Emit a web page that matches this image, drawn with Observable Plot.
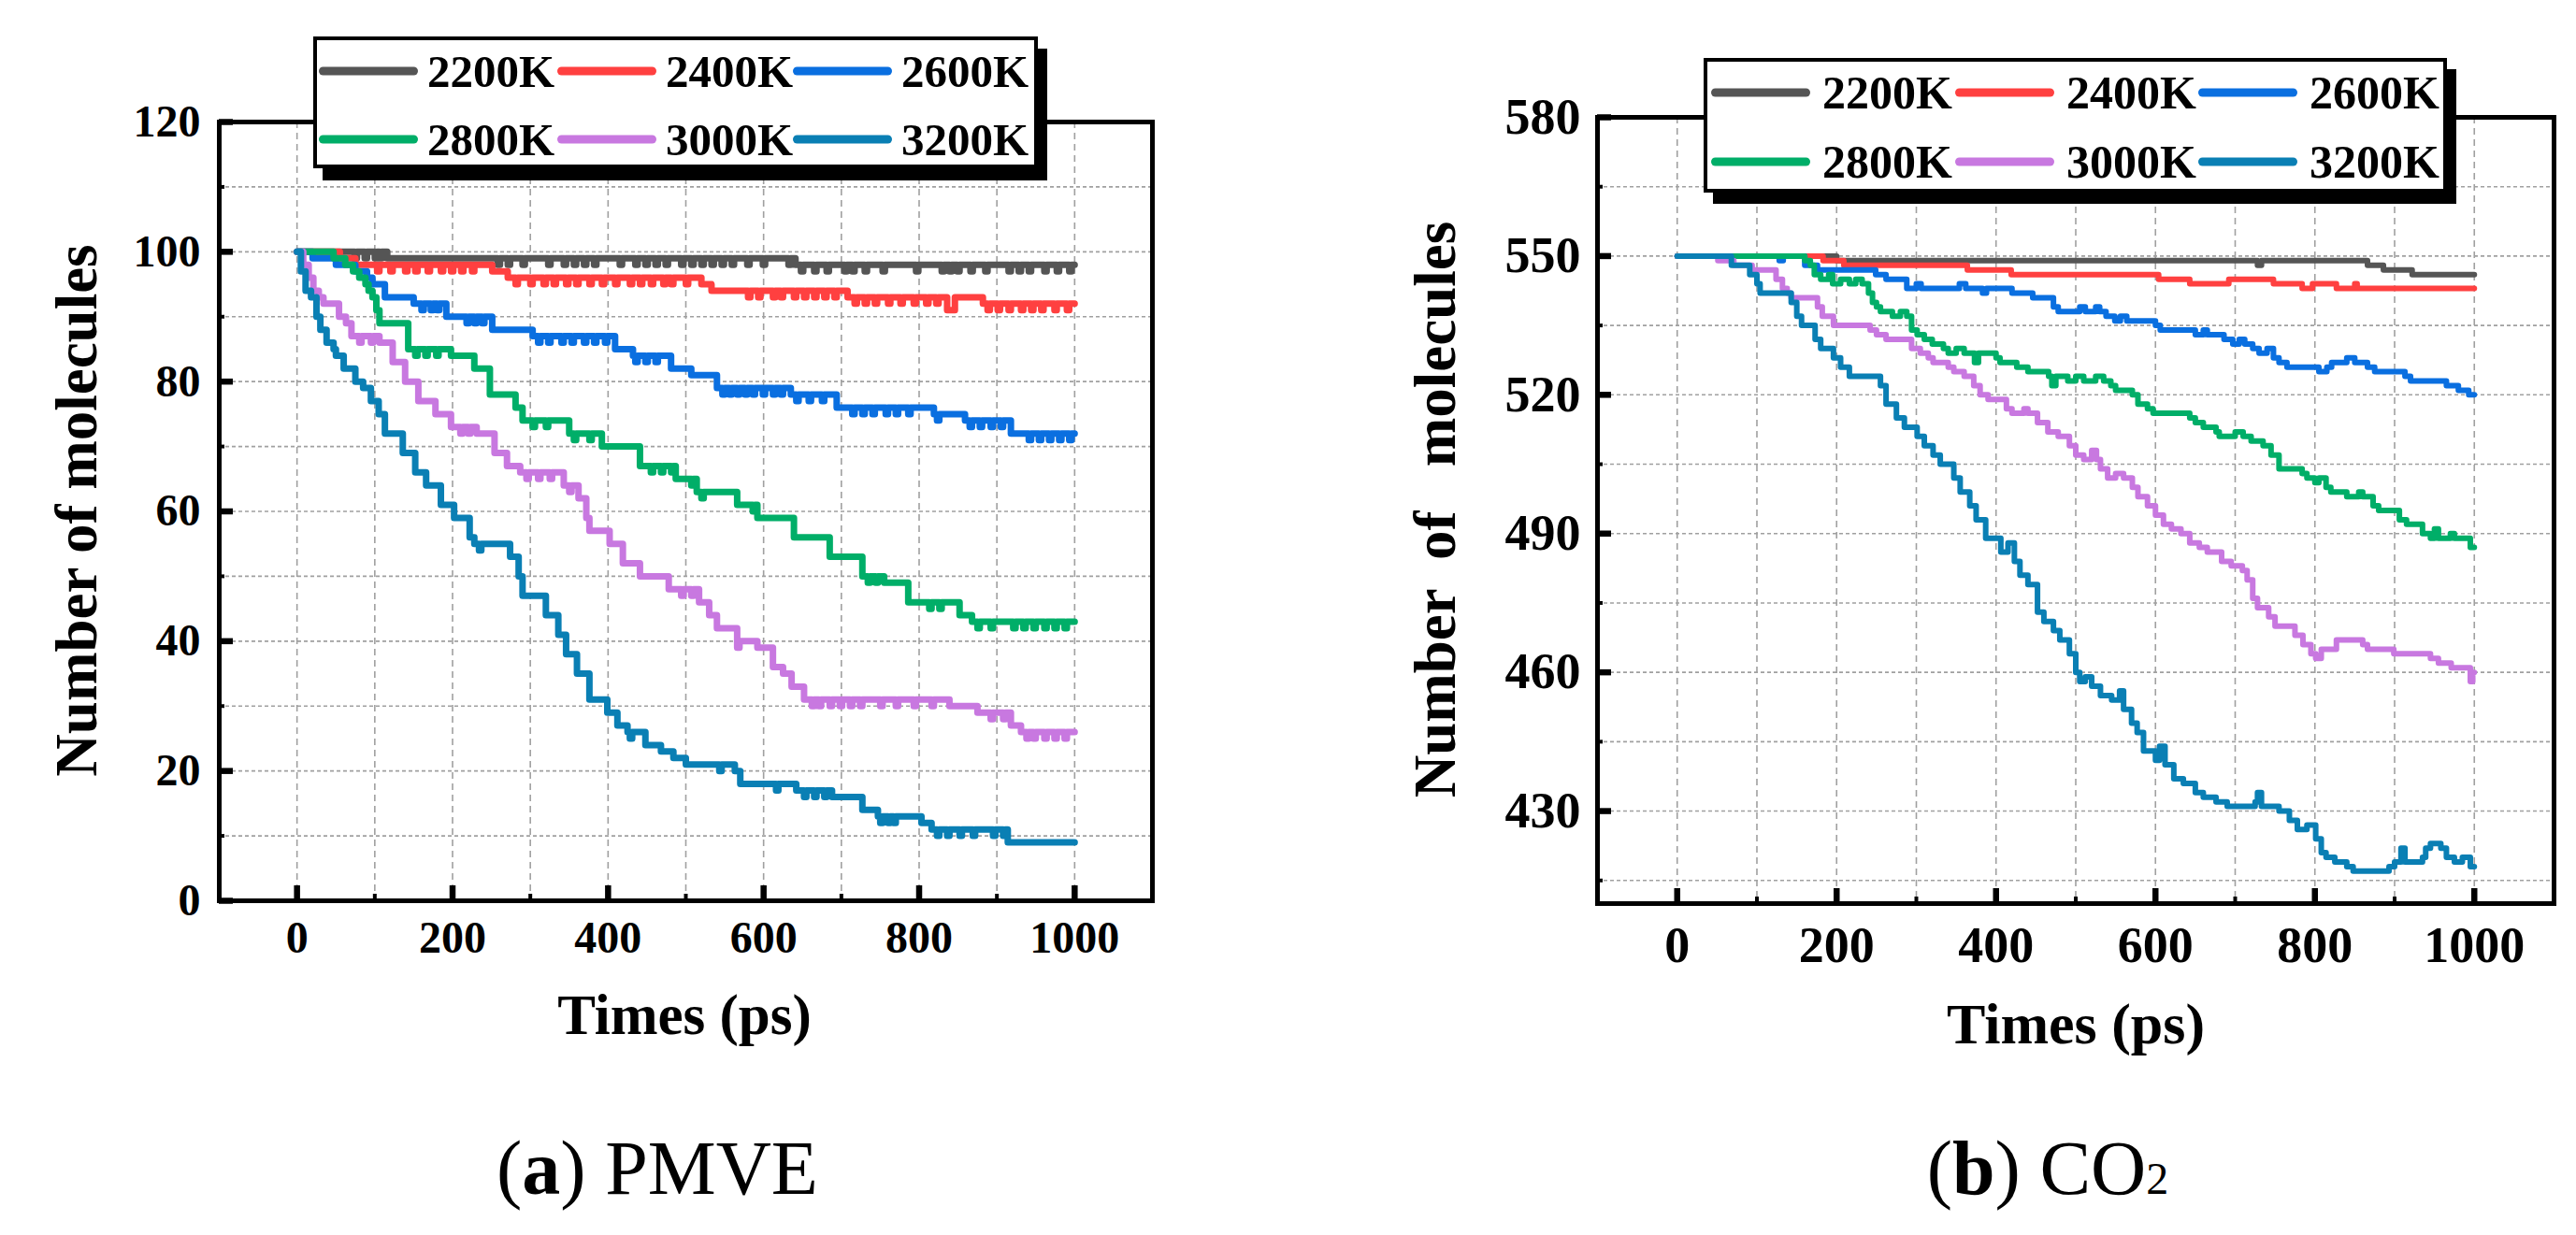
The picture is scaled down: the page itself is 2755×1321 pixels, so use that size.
<!DOCTYPE html>
<html>
<head>
<meta charset="utf-8">
<script src="https://cdn.jsdelivr.net/npm/d3@7"></script>
<script src="https://cdn.jsdelivr.net/npm/@observablehq/plot@0.6"></script>
<style>
  html, body { margin: 0; padding: 0; background: #fff; }
  #page { position: relative; width: 2755px; height: 1321px; overflow: hidden; background: #fff;
          font-family: "Liberation Serif", "Times New Roman", serif; }
  #plotA, #plotB, #overlay { position: absolute; top: 0; }
  #plotA { left: 0; }
  #plotB { left: 1380px; }
  #overlay { left: 0; pointer-events: none; }
</style>
</head>
<body>
<div id="page">
  <div id="plotA"></div>
  <div id="plotB"></div>
  <svg id="overlay" width="2755" height="1321"></svg>
</div>
<script>
// ---------- categories, colours, ticks ----------
const temps = ["2200K", "2400K", "2600K", "2800K", "3000K", "3200K"];
const colors = ["#555555", "#ff4040", "#0a6fe0", "#00ae68", "#c878e0", "#0a7fb4"];

const xMajor = [0, 200, 400, 600, 800, 1000];
const xMinor = [100, 300, 500, 700, 900];
const xGrid = [0, 100, 200, 300, 400, 500, 600, 700, 800, 900, 1000];

const yMajorA = [0, 20, 40, 60, 80, 100, 120];
const yMinorA = [10, 30, 50, 70, 90, 110];
const yGridA = [10, 20, 30, 40, 50, 60, 70, 80, 90, 100, 110];

const yMajorB = [430, 460, 490, 520, 550, 580];
const yMinorB = [415, 445, 475, 505, 535, 565];
const yGridB = [415, 430, 445, 460, 475, 490, 505, 520, 535, 550, 565];

// ---------- (a) PMVE : step levels [time ps, molecules] ----------
const pmve2200 = [[0,100],[116,99],[641,98]];
const pmve2400 = [[0,100],[55,99],[75,98],[251,97],[271,96],[520,95],[533,94],[708,93],[836,91],[846,93],[882,92]];
const pmve2600 = [[0,100],[20,99],[50,98],[75,97],[90,96],[97,95],[113,93],[150,92],[192,90],[251,88],[303,87],[409,85],[432,84],[481,82],[507,81],[540,79],[635,78],[694,76],[819,75],[859,74],[918,72]];
const pmve2800 = [[0,100],[47,99],[62,98],[72,97],[80,96],[88,95],[92,94],[97,93],[102,91],[106,89],[143,85],[198,84],[228,82],[248,78],[281,76],[290,74],[350,72],[392,70],[441,67],[487,65],[514,63],[566,61],[592,59],[639,56],[685,53],[727,50],[755,49],[786,46],[852,44],[868,43]];
const pmve3000 = [[0,100],[8,98],[15,96],[21,94],[28,93],[34,92],[54,90],[63,89],[70,87],[106,86],[123,83],[139,80],[156,77],[178,75],[198,73],[231,72],[254,69],[270,67],[287,66],[343,64],[362,62],[372,59],[376,57],[402,55],[419,52],[441,50],[478,48],[517,46],[530,44],[540,42],[566,40],[592,39],[612,36],[625,35],[636,33],[652,31],[839,30],[875,29],[918,27],[931,26]];
const pmve3200 = [[0,100],[5,97],[11,94],[18,93],[25,90],[30,88],[38,86],[47,85],[50,84],[60,82],[75,80],[85,79],[95,77],[105,75],[113,72],[136,69],[152,66],[166,64],[185,61],[202,59],[222,56],[228,55],[274,53],[285,50],[290,47],[320,44],[336,41],[346,38],[360,35],[376,31],[399,29],[412,27],[425,26],[448,24],[468,23],[484,22],[500,21],[563,20],[570,18],[642,17],[688,16],[727,14],[747,13],[803,12],[816,11],[914,9]];

// momentary one-molecule drops (times, ps)
const spikes2200 = [74,87,100,106,258,271,290,323,343,356,369,382,415,435,448,461,474,494,507,520,533,546,559,579,599,632,648,665,681,704,714,730,753,796,829,839,849,866,885,915,928,941,961,977,993];
const spikes2400 = [103,120,139,152,168,185,198,211,225,281,300,317,330,346,359,376,392,409,428,441,455,471,481,500,580,593,612,622,639,652,665,678,691,717,730,743,760,776,793,809,822,888,901,915,931,944,957,974,990];
const spikes2600 = [160,172,180,218,228,238,310,323,340,353,369,382,396,435,448,461,547,556,566,576,586,599,612,622,642,658,675,714,727,740,757,770,786,823,865,878,892,905,941,954,967,980,993];
const spikes2800 = [152,165,179,303,320,356,376,455,468,481,507,520,586,734,744,813,826,875,892,921,934,947,961,974,987];
const spikes3000 = [80,95,210,220,295,310,325,350,494,507,566,662,671,685,698,711,724,750,770,793,816,892,908,938,947,961,974,987];
const spikes3200 = [234,428,543,616,652,665,678,750,760,767,823,836,852,869,895,908];

// ---------- (b) CO2 : step readings [time ps, molecules] ----------
const co2_2200 = [[0,550],[200,549],[728,548],[733,549],[866,548],[886,547],[922,546]];
const co2_2400 = [[0,550],[183,549],[209,548],[364,547],[419,546],[604,545],[643,544],[692,545],[748,544],[784,543],[797,544],[827,543],[850,544],[853,543]];
const co2_2600 = [[0,550],[128,549],[133,550],[160,548],[176,547],[249,546],[262,545],[288,543],[300,544],[306,543],[354,544],[362,543],[383,542],[388,543],[420,542],[446,541],[472,539],[478,538],[505,539],[512,538],[525,539],[530,538],[538,537],[549,536],[556,537],[564,536],[600,535],[606,534],[650,533],[660,534],[665,533],[686,532],[697,531],[705,532],[712,531],[722,530],[730,529],[740,530],[748,528],[755,527],[765,526],[805,525],[815,526],[821,527],[840,528],[850,527],[866,526],[875,525],[913,524],[920,523],[965,522],[980,521],[993,520]];
const co2_2800 = [[0,550],[160,549],[167,548],[172,546],[180,545],[190,546],[195,544],[205,545],[216,544],[224,545],[232,544],[240,542],[245,540],[250,539],[255,538],[270,537],[280,538],[288,537],[294,534],[301,533],[310,532],[320,531],[334,530],[340,529],[350,530],[360,529],[373,527],[378,529],[400,528],[405,527],[426,526],[440,525],[466,524],[470,522],[475,524],[490,523],[500,524],[510,523],[525,524],[535,523],[544,522],[550,521],[571,520],[578,518],[590,517],[597,516],[643,515],[650,514],[660,513],[676,512],[680,511],[700,512],[710,511],[720,510],[735,509],[745,507],[755,504],[784,503],[790,502],[800,501],[805,502],[814,500],[820,499],[840,498],[855,499],[860,498],[873,496],[880,495],[906,493],[915,492],[935,490],[945,489],[950,491],[955,489],[970,490],[975,489],[995,487]];
const co2_3000 = [[0,550],[51,549],[71,548],[94,547],[124,545],[132,543],[138,542],[143,541],[176,539],[182,537],[196,535],[242,534],[250,533],[262,532],[294,530],[305,529],[315,528],[321,527],[340,526],[347,525],[360,524],[372,522],[380,520],[390,519],[413,517],[420,516],[435,517],[440,516],[452,514],[465,512],[478,511],[492,509],[500,507],[510,506],[520,508],[526,506],[531,504],[540,502],[550,503],[560,502],[571,500],[578,498],[590,496],[600,494],[610,492],[620,491],[632,490],[643,488],[655,487],[665,486],[683,484],[695,483],[709,482],[715,480],[722,476],[728,474],[742,472],[750,470],[775,468],[785,466],[795,464],[801,463],[808,465],[827,467],[860,466],[866,465],[899,464],[945,463],[955,462],[971,461],[995,458],[998,460]];
const co2_3200 = [[0,550],[68,548],[91,546],[100,544],[104,542],[143,540],[150,537],[156,535],[173,532],[180,530],[196,528],[205,526],[216,524],[255,522],[262,518],[275,515],[285,513],[301,511],[310,509],[321,507],[330,505],[347,502],[355,499],[367,496],[375,493],[387,489],[406,486],[415,488],[423,484],[430,481],[440,479],[452,473],[460,471],[472,469],[480,467],[492,464],[500,460],[505,458],[512,459],[520,457],[531,455],[545,454],[555,456],[560,452],[570,449],[577,447],[585,443],[600,441],[605,444],[612,440],[623,437],[635,436],[650,434],[660,433],[676,432],[690,431],[725,432],[728,434],[733,431],[755,430],[768,428],[778,426],[790,427],[801,424],[808,421],[814,420],[825,419],[840,418],[848,417],[893,418],[900,419],[908,422],[913,419],[935,420],[939,422],[945,423],[958,422],[965,420],[975,419],[985,420],[995,418]];

// ---------- build tables ----------
function levelAt(levels, s) {
  let lv = levels[0][1];
  for (const [t, v] of levels) if (t <= s) lv = v;
  return lv;
}
function build(name, levels, spikes = []) {
  const pts = levels.map(([t, v]) => ({t, v}));
  for (const s of spikes) {
    const lv = levelAt(levels, s);
    pts.push({t: s, v: lv - 1}, {t: s + 3, v: lv});
  }
  pts.sort((a, b) => a.t - b.t);
  pts.push({t: 1000, v: levels[levels.length - 1][1]});
  return pts.map(p => ({series: name, t: p.t, v: p.v}));
}
const dataA = [
  ...build("2200K", pmve2200, spikes2200),
  ...build("2400K", pmve2400, spikes2400),
  ...build("2600K", pmve2600, spikes2600),
  ...build("2800K", pmve2800, spikes2800),
  ...build("3000K", pmve3000, spikes3000),
  ...build("3200K", pmve3200, spikes3200)
];
const dataB = [
  ...build("2200K", co2_2200),
  ...build("2400K", co2_2400),
  ...build("2600K", co2_2600),
  ...build("2800K", co2_2800),
  ...build("3000K", co2_3000),
  ...build("3200K", co2_3200)
];

// ---------- panel factory ----------
function panel({data, width, height, mL, mR, mT, mB, yDomain, yMajor, yMinor, yGrid, fs, padX, padY, lw}) {
  const fw = width - mL - mR, fh = height - mT - mB;
  return Plot.plot({
    width, height,
    marginLeft: mL, marginRight: mR, marginTop: mT, marginBottom: mB,
    x: {domain: [-100, 1100]},
    y: {domain: yDomain},
    color: {domain: temps, range: colors},
    style: {fontFamily: "'Liberation Serif', 'Times New Roman', serif", fontSize: fs + "px", fontWeight: "bold", color: "#000", background: "transparent", overflow: "visible"},
    marks: [
      Plot.gridX(xGrid, {stroke: "#a0a0a0", strokeOpacity: 1, strokeWidth: 1.6, strokeDasharray: "7,5"}),
      Plot.gridY(yGrid, {stroke: "#a0a0a0", strokeOpacity: 1, strokeWidth: 1.6, strokeDasharray: "4,3"}),
      Plot.line(data, {x: "t", y: "v", z: "series", stroke: "series", curve: "step-after", strokeWidth: lw, strokeLinejoin: "round", strokeLinecap: "round"}),
      Plot.frame({stroke: "#000", strokeWidth: 5}),
      Plot.tickX(xMajor, {x: d => d, stroke: "#000", strokeWidth: 6.5, insetTop: fh - 16}),
      Plot.tickX(xMinor, {x: d => d, stroke: "#000", strokeWidth: 4, insetTop: fh - 7}),
      Plot.tickY(yMajor, {y: d => d, stroke: "#000", strokeWidth: 6.5, insetRight: fw - 15}),
      Plot.tickY(yMinor, {y: d => d, stroke: "#000", strokeWidth: 4, insetRight: fw - 6}),
      Plot.axisX(xMajor, {tickSize: 0, tickPadding: padX, fontSize: fs, fontWeight: "bold", label: null, tickFormat: d => String(d)}),
      Plot.axisY(yMajor, {tickSize: 0, tickPadding: padY, fontSize: fs, fontWeight: "bold", label: null, tickFormat: d => String(d)})
    ]
  });
}

document.getElementById("plotA").appendChild(panel({
  data: dataA, width: 1380, height: 1100, mL: 234, mR: 148, mT: 130, mB: 137,
  yDomain: [0, 120], yMajor: yMajorA, yMinor: yMinorA, yGrid: yGridA, fs: 48, padX: 21, padY: 20, lw: 7
}));
document.getElementById("plotB").appendChild(panel({
  data: dataB, width: 1375, height: 1100, mL: 328, mR: 24, mT: 125, mB: 134,
  yDomain: [410, 580], yMajor: yMajorB, yMinor: yMinorB, yGrid: yGridB, fs: 54, padX: 24, padY: 18, lw: 6
}));

// ---------- overlay: legends, axis titles, captions ----------
const ov = d3.select("#overlay");
const serif = "'Liberation Serif', 'Times New Roman', serif";

function legend({x, y, w, h, sx, sy, starts, labelOff, rows, fs}) {
  const g = ov.append("g");
  g.append("rect").attr("x", x + sx).attr("y", y + sy).attr("width", w).attr("height", h).attr("fill", "#000");
  g.append("rect").attr("x", x + 2).attr("y", y + 2).attr("width", w - 4).attr("height", h - 4)
    .attr("fill", "#fff").attr("stroke", "#000").attr("stroke-width", 4);
  temps.forEach((name, i) => {
    const r = Math.floor(i / 3), c = i % 3;
    const L = starts[c], cy = rows[r];
    g.append("line").attr("x1", L + 4.5).attr("x2", L + 101.5).attr("y1", cy).attr("y2", cy)
      .attr("stroke", colors[i]).attr("stroke-width", 9).attr("stroke-linecap", "round");
    g.append("text").attr("x", L + labelOff).attr("y", cy + fs * 0.34)
      .attr("font-family", serif).attr("font-weight", "bold").attr("font-size", fs).text(name);
  });
}
legend({x: 335, y: 39, w: 775, h: 141, sx: 10, sy: 13, starts: [341, 596, 848], labelOff: 116, rows: [76, 149], fs: 49});
legend({x: 1822, y: 62, w: 795, h: 144, sx: 10, sy: 12, starts: [1830, 2091, 2351], labelOff: 119, rows: [99, 173], fs: 50});

function ylabel(x, y, txt, fs) {
  ov.append("text").attr("transform", `translate(${x},${y}) rotate(-90)`)
    .attr("text-anchor", "middle").attr("font-family", serif).attr("font-weight", "bold")
    .attr("font-size", fs).style("white-space", "pre").attr("xml:space", "preserve").text(txt);
}
ylabel(103, 546, "Number of molecules", 63);
ylabel(1556, 545, "Number  of   molecules", 63);

function xlabel(x, y, txt, fs) {
  ov.append("text").attr("x", x).attr("y", y).attr("text-anchor", "middle")
    .attr("font-family", serif).attr("font-weight", "bold").attr("font-size", fs).text(txt);
}
xlabel(732, 1106, "Times (ps)", 61);
xlabel(2220, 1116, "Times (ps)", 62);

const capA = ov.append("text").attr("x", 703).attr("y", 1277).attr("text-anchor", "middle")
  .attr("font-family", serif).attr("font-size", 82);
capA.append("tspan").text("(");
capA.append("tspan").attr("font-weight", "bold").text("a");
capA.append("tspan").text(") PMVE");

const capB = ov.append("text").attr("x", 2190).attr("y", 1277).attr("text-anchor", "middle")
  .attr("font-family", serif).attr("font-size", 82);
capB.append("tspan").text("(");
capB.append("tspan").attr("font-weight", "bold").text("b");
capB.append("tspan").text(") CO");
capB.append("tspan").attr("font-size", 48).text("2");
</script>
</body>
</html>
